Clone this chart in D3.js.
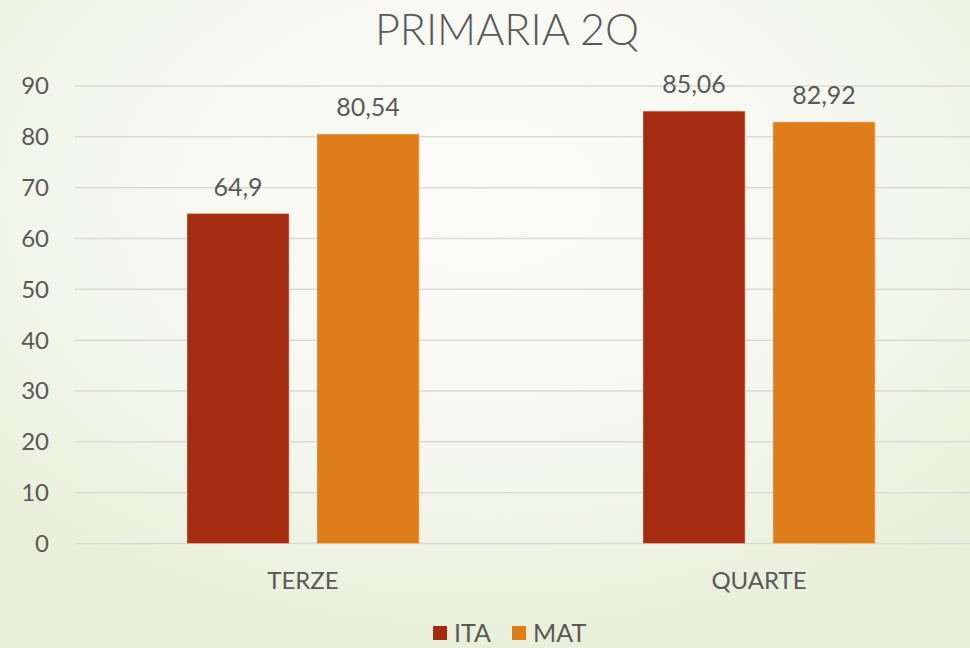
<!DOCTYPE html>
<html>
<head>
<meta charset="utf-8">
<script src="https://cdn.jsdelivr.net/npm/d3@7"></script>
<style>
  html, body { margin: 0; padding: 0; }
  body { width: 970px; height: 648px; overflow: hidden; }
  svg text { font-family: "Lato", "Noto Sans", sans-serif; fill: #595959; }
</style>
</head>
<body>
<svg id="chart" width="970" height="648"></svg>
<script>
// chart data
const categories = ["TERZE", "QUARTE"];
const seriesNames = ["ITA", "MAT"];
const itaValues = [64.9, 85.06];
const matValues = [80.54, 82.92];
const yTicks = [0, 10, 20, 30, 40, 50, 60, 70, 80, 90];
const colors = ["#a52c10", "#de7d19"];

const svg = d3.select("#chart");
const width = 970, height = 648;

// background gradient
const defs = svg.append("defs");
const grad = defs.append("radialGradient")
    .attr("id", "bg")
    .attr("cx", "50%").attr("cy", "30%").attr("r", "74%");
grad.append("stop").attr("offset", "0%").attr("stop-color", "#fcfcfa");
grad.append("stop").attr("offset", "50%").attr("stop-color", "#f6f8f0");
grad.append("stop").attr("offset", "100%").attr("stop-color", "#e8eed8");
svg.append("rect").attr("width", width).attr("height", height).attr("fill", "url(#bg)");

const margin = { left: 75, right: -17, top: 86, bottom: 104.5 };

const x = d3.scaleBand()
    .domain(categories)
    .range([margin.left, width - margin.right]);

const xInner = d3.scaleBand()
    .domain(seriesNames)
    .range([112, 344])
    .paddingInner(0.215);

const y = d3.scaleLinear()
    .domain([0, 90])
    .range([height - margin.bottom, margin.top]);

// gridlines
svg.append("g")
    .selectAll("line")
    .data(yTicks)
    .join("line")
    .attr("x1", margin.left)
    .attr("x2", width)
    .attr("y1", d => y(d))
    .attr("y2", d => y(d))
    .attr("stroke", "#d9d9d9")
    .attr("stroke-width", 1.5);

// y axis labels
svg.append("g")
    .selectAll("text")
    .data(yTicks)
    .join("text")
    .attr("x", 49)
    .attr("y", d => y(d))
    .attr("dy", "0.35em")
    .attr("text-anchor", "end")
    .attr("font-size", 24)
    .text(d => d);

// bars
const rows = categories.map((c, i) => ({ cat: c, values: [itaValues[i], matValues[i]] }));

const groups = svg.append("g")
    .selectAll("g")
    .data(rows)
    .join("g")
    .attr("transform", d => `translate(${x(d.cat)},0)`);

groups.selectAll("rect")
    .data(d => d.values.map((v, j) => ({ name: seriesNames[j], value: v, color: colors[j] })))
    .join("rect")
    .attr("x", d => xInner(d.name))
    .attr("y", d => y(d.value))
    .attr("width", xInner.bandwidth())
    .attr("height", d => y(0) - y(d.value))
    .attr("fill", d => d.color)
    .attr("stroke", "#f3c9a8")
    .attr("stroke-opacity", 0.5)
    .attr("stroke-width", 1);

// value labels
groups.selectAll("text")
    .data(d => d.values.map((v, j) => ({ name: seriesNames[j], value: v })))
    .join("text")
    .attr("x", d => xInner(d.name) + xInner.bandwidth() / 2)
    .attr("y", d => y(d.value) - 18)
    .attr("text-anchor", "middle")
    .attr("font-size", 25)
    .text(d => String(d.value).replace(".", ","));

// category labels
svg.append("g")
    .selectAll("text")
    .data(categories)
    .join("text")
    .attr("x", d => x(d) + 228)
    .attr("y", 589)
    .attr("text-anchor", "middle")
    .attr("font-size", 24)
    .text(d => d);

// title
svg.append("text")
    .attr("x", 507)
    .attr("y", 45)
    .attr("text-anchor", "middle")
    .attr("font-size", 43)
    .attr("font-weight", 300)
    .text("PRIMARIA 2Q");

// legend
const legend = svg.append("g");
const legendX = [433, 512];
seriesNames.forEach((name, i) => {
    legend.append("rect")
        .attr("x", legendX[i])
        .attr("y", 626)
        .attr("width", 14)
        .attr("height", 14)
        .attr("fill", colors[i]);
    legend.append("text")
        .attr("x", legendX[i] + 21)
        .attr("y", 642)
        .attr("font-size", 25)
        .text(name);
});
</script>
</body>
</html>
